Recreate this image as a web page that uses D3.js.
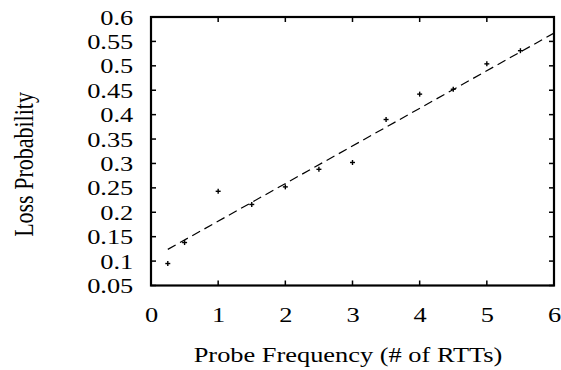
<!DOCTYPE html>
<html>
<head>
<meta charset="utf-8">
<script src="https://cdn.jsdelivr.net/npm/d3@7"></script>
<style>
  html, body { margin: 0; padding: 0; background: #fff; }
  svg { display: block; }
</style>
</head>
<body>
<svg id="chart" width="561" height="370"></svg>
<script>
const probeFreq = [0.25, 0.5, 1, 1.5, 2, 2.5, 3, 3.5, 4, 4.5, 5, 5.5];
const lossProb  = [0.095, 0.138, 0.243, 0.216, 0.252, 0.288, 0.302, 0.390, 0.442, 0.452, 0.504, 0.531];
const fitX = [0.25, 6];
const fitY = [0.124, 0.567];
const xTicks = [0, 1, 2, 3, 4, 5, 6];
const yTicks = [0.05, 0.1, 0.15, 0.2, 0.25, 0.3, 0.35, 0.4, 0.45, 0.5, 0.55, 0.6];
const xTitle = "Probe Frequency (# of RTTs)";
const yTitle = "Loss Probability";

const FONT = '"Liberation Serif", "Times New Roman", serif';
const SX = 1.2; // horizontal stretch of the reference's lettering
const svg = d3.select("#chart");
const L = 151, R = 554, T = 17, B = 285.5;
const x = d3.scaleLinear().domain([0, 6]).range([L, R]);
const y = d3.scaleLinear().domain([0.05, 0.6]).range([B, T]);

const fs = 22;
const xb = svg.append("g").attr("transform", `translate(0,${B})`)
  .call(d3.axisBottom(x).tickValues(xTicks).tickSize(0).tickPadding(21).tickFormat(d3.format("d")));
xb.select(".domain").remove();
xb.selectAll("text").style("font-size", fs + "px").style("font-family", FONT).style("fill", "#000")
  .attr("transform", `scale(${SX},1)`);

const yl = svg.append("g").attr("transform", `translate(${L},0)`)
  .call(d3.axisLeft(y).tickValues(yTicks).tickSize(0).tickFormat(d => String(+d.toFixed(2))));
yl.select(".domain").remove();
yl.selectAll("text").style("font-size", fs + "px").style("font-family", FONT).style("fill", "#000")
  .attr("x", -17.7 / SX).attr("transform", `scale(${SX},1)`);

// inward ticks on all four sides
const tk = 5;
const tickG = svg.append("g").attr("stroke", "#000").attr("stroke-width", 1.5);
tickG.selectAll(".xb").data(xTicks).join("line")
  .attr("x1", d => x(d)).attr("x2", d => x(d)).attr("y1", B).attr("y2", B - tk);
tickG.selectAll(".xt").data(xTicks).join("line")
  .attr("x1", d => x(d)).attr("x2", d => x(d)).attr("y1", T).attr("y2", T + tk);
tickG.selectAll(".yl").data(yTicks).join("line")
  .attr("x1", L).attr("x2", L + tk).attr("y1", d => y(d)).attr("y2", d => y(d));
tickG.selectAll(".yr").data(yTicks).join("line")
  .attr("x1", R).attr("x2", R - tk).attr("y1", d => y(d)).attr("y2", d => y(d));

// frame
svg.append("rect").attr("x", L).attr("y", T).attr("width", R - L).attr("height", B - T)
  .attr("fill", "none").attr("stroke", "#000").attr("stroke-width", 2.2);

// fitted dashed line
svg.append("line")
  .attr("x1", x(fitX[0])).attr("y1", y(fitY[0]))
  .attr("x2", x(fitX[1])).attr("y2", y(fitY[1]))
  .attr("stroke", "#000").attr("stroke-width", 1.2).attr("stroke-dasharray", "9,5");

// point markers (+)
const pts = probeFreq.map((v, i) => [v, lossProb[i]]);
const m = 2.5;
const pg = svg.append("g").attr("stroke", "#000").attr("stroke-width", 1.4);
pts.forEach(([a, b]) => {
  pg.append("line").attr("x1", x(a) - m).attr("x2", x(a) + m).attr("y1", y(b)).attr("y2", y(b));
  pg.append("line").attr("x1", x(a)).attr("x2", x(a)).attr("y1", y(b) - m).attr("y2", y(b) + m);
});

// titles
svg.append("text").attr("transform", `translate(348,362) scale(${SX},1)`).attr("text-anchor", "middle")
  .style("font-family", FONT).style("font-size", fs + "px").text(xTitle);
svg.append("text").attr("transform", `translate(33,164.5) scale(${SX},1) rotate(-90)`)
  .attr("text-anchor", "middle").style("font-family", FONT).style("font-size", fs + "px").text(yTitle);
</script>
</body>
</html>
